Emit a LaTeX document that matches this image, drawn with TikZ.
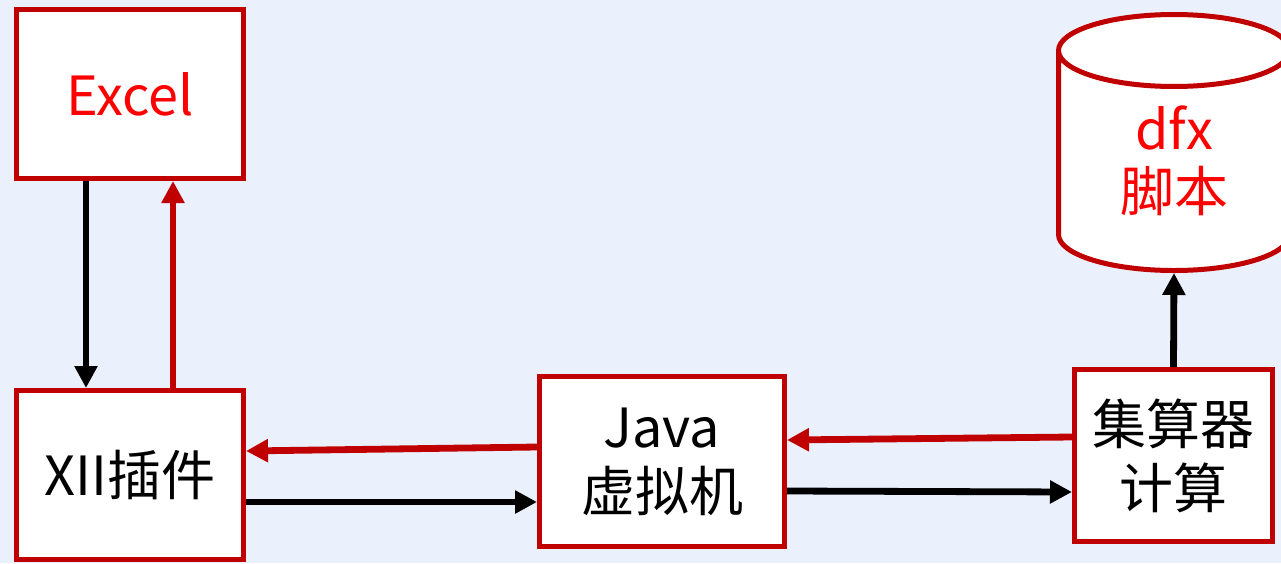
\documentclass[tikz,border=0pt]{standalone}
\usepackage{fontspec}
\setmainfont{Noto Sans CJK SC}
\usetikzlibrary{arrows.meta, shapes.geometric}

\definecolor{bgblue}{HTML}{EAF1FC}
\definecolor{boxred}{HTML}{C00000}
\definecolor{txtred}{HTML}{FF0000}

\begin{document}
\begin{tikzpicture}[x=0.5pt, y=-0.5pt,
    box/.style={draw=boxred, fill=white, line width=2.5pt, align=center,
      font=\fontsize{27}{32}\selectfont},
    link/.style={line width=3.4pt, -{Triangle[length=11pt, width=11pt]}},
    redlink/.style={link, boxred}]
  \fill[bgblue] (0,0) rectangle (1281,563);
  \useasboundingbox (0,0) rectangle (1281,563);

  \node[box, minimum width=113.5pt, minimum height=84.5pt, text=txtred] (excel) at (130,94) {Excel};
  \node[box, minimum width=113.5pt, minimum height=84.5pt] (xii) at (130,475) {XII插件};
  \node[box, minimum width=122.5pt, minimum height=85pt] (java) at (662,461.5) {Java\\虚拟机};
  \node[box, minimum width=99pt, minimum height=86pt] (calc) at (1173.5,455.5) {集算器\\计算};
  \node[box, cylinder, shape border rotate=90, aspect=5.4, anchor=south,
    minimum width=115.5pt, minimum height=128pt] (dfx) at (1174,273) {};
  \node[align=center, text=txtred, font=\fontsize{27}{31}\selectfont] (dfxtext) at (1174,161) {dfx\\脚本};

  % Excel <-> plugin
  \draw[link] ([xshift=-22pt]excel.south) -- ([xshift=-22pt]xii.north);
  \draw[redlink] ([xshift=21.5pt]xii.north) -- ([xshift=21.5pt]excel.south);

  % plugin <-> JVM
  \draw[redlink] ([yshift=7.25pt]java.west) -- ([yshift=12pt]xii.east);
  \draw[link] ([yshift=-13.5pt]xii.east) -- ([yshift=-20.25pt]java.west);

  % JVM <-> esProc
  \draw[redlink] ([yshift=9.25pt]calc.west) -- ([yshift=10.75pt]java.east);
  \draw[link] ([yshift=-14.75pt]java.east) -- ([yshift=-18.25pt]calc.west);

  \draw[link] (calc.north) -- (dfx.south);
\end{tikzpicture}
\end{document}
